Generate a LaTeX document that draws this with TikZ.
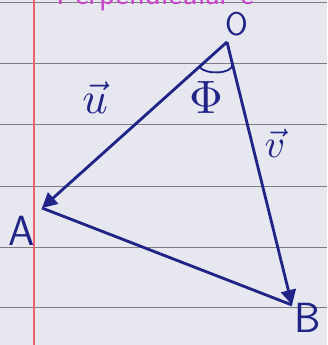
\documentclass[tikz,border=0pt]{standalone}
\usepackage{amssymb}
\usepackage{tikz}
\usetikzlibrary{arrows.meta,calc}
\definecolor{paper}{RGB}{231,231,239}
\definecolor{rule}{RGB}{125,125,130}
\definecolor{margin}{RGB}{240,95,110}
\definecolor{ink}{RGB}{32,36,135}
\definecolor{pink}{RGB}{200,70,200}

\begin{document}
\begin{tikzpicture}[x=0.3mm,y=-0.3mm,
  vec/.style={ink, line width=0.85mm, -{Triangle[length=4.5mm,width=4.5mm]}},
  side/.style={ink, line width=0.85mm},
  lbl/.style={ink, font=\sffamily\fontsize{36}{36}\selectfont}]
% notebook page
\clip (0,0) rectangle (327,345);
\fill[paper] (0,0) rectangle (327,345);
\foreach \y in {3,64,125,186,247,307}
  \draw[rule, line width=0.3mm] (0,\y) -- (327,\y);
\draw[margin, line width=0.35mm] (34,0) -- (34,345);
% heading, cut by the top edge
\node[pink, anchor=base west, font=\sffamily\fontsize{28}{28}\selectfont] (title) at (52,5) {Perpendicular e};
% the triangle
\coordinate (O) at (227,42);
\coordinate (A) at (42,208);
\coordinate (B) at (292,305);
\draw[vec] (O) -- (A);
\draw[vec] (O) -- (B);
\draw[side] (A) -- (B);
% angle at O
\draw[ink, line width=0.55mm] ($(O)!0.15!(A)$) .. controls +(6,8) and +(0,10) .. ($(O)!0.085!(B)$);
\node[ink, scale=4.0] (phi) at (206,97) {$\Phi$};
% labels
\node[ink, font=\sffamily\fontsize{28}{28}\selectfont] (lblO) at (237,24) {O};
\node[lbl] (lblA) at (22,231) {A};
\node[lbl] (lblB) at (308,318) {B};
\node[ink, scale=3.8] (lblu) at (95,98) {$\vec{u}$};
\node[ink, scale=3.4] (lblv) at (275,143) {$\vec{v}$};
\end{tikzpicture}
\end{document}
